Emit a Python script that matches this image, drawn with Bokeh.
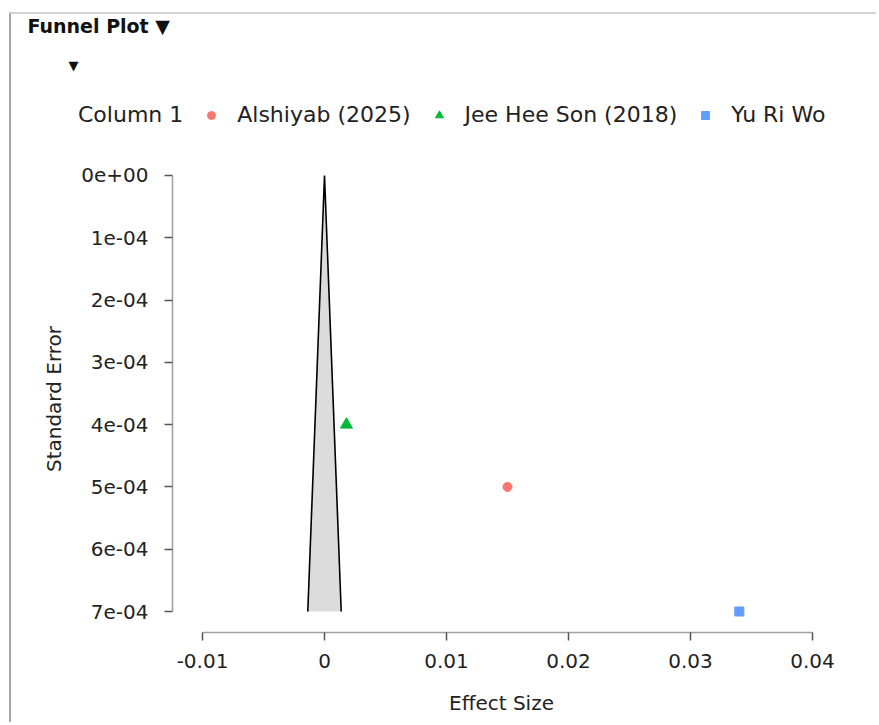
from bokeh.plotting import figure
from bokeh.layouts import column
from bokeh.models import (Range1d, FixedTicker, CustomJSTickFormatter, Legend, LegendItem, Label)
from bokeh.embed import file_html
from bokeh.resources import INLINE

# ---- data ----
studies = ["Alshiyab (2025)", "Jee Hee Son (2018)", "Yu Ri Wo"]
effect = [0.0150, 0.0018, 0.0340]
std_err = [5e-4, 4e-4, 7e-4]
markers = ["circle", "triangle", "square"]
colors = ["#F8766D", "#00BA38", "#619CFF"]
legend_title = "Column 1"
plot_title = "Funnel Plot \u25BC"

funnel_x = [-0.00137, 0.0, 0.00137]
funnel_se = [7e-4, 0.0, 7e-4]

x_ticks = [-0.01, 0.0, 0.01, 0.02, 0.03, 0.04]
x_tick_labels = ["-0.01", "0", "0.01", "0.02", "0.03", "0.04"]
se_ticks = [0.0, 1e-4, 2e-4, 3e-4, 4e-4, 5e-4, 6e-4, 7e-4]
se_tick_labels = ["0e+00", "1e-04", "2e-04", "3e-04", "4e-04", "5e-04", "6e-04", "7e-04"]

FONT = "DejaVu Sans"
TXT = "#222222"
W = 865
H_HEAD = 140

# ---------------- header (title + legend row) ----------------
head = figure(width=W, height=H_HEAD, x_range=Range1d(0, W), y_range=Range1d(H_HEAD, 0),
              output_backend="svg", toolbar_location=None,
              x_axis_location=None, y_axis_location=None,
              min_border_left=0, min_border_right=0, min_border_top=0, min_border_bottom=0,
              background_fill_color="white", border_fill_color="white")
head.frame_align = False
head.outline_line_color = None
head.grid.visible = False

head.add_layout(Label(x=16, y=11, text=plot_title, text_font=FONT, text_font_style="bold",
                      text_font_size="19px", text_color="#111111", text_baseline="middle"))
head.add_layout(Label(x=62, y=51, text="\u25BC", text_font=FONT, text_font_size="13px",
                      text_color="#111111", text_baseline="middle", text_align="center"))

dummy = head.scatter([], [], marker="circle", size=1, fill_alpha=0, line_alpha=0)
items = [LegendItem(label=legend_title, renderers=[dummy])]
for s, x, y, m, c in zip(studies, effect, std_err, markers, colors):
    hr = head.scatter([x], [y], marker=m, size=9, fill_color=c, line_color=c, visible=False)
    items.append(LegendItem(label=s, renderers=[hr]))
lg = Legend(items=items, location=(31, 27),
            orientation="horizontal", padding=0, margin=0, spacing=18,
            label_standoff=16, glyph_width=20, glyph_height=24, label_height=24,
            label_text_font=FONT, label_text_font_size="22px", label_text_color=TXT,
            border_line_alpha=0, background_fill_alpha=0, inactive_fill_alpha=0)
head.add_layout(lg, "center")

# ---------------- main funnel plot ----------------
p = figure(frame_width=658, frame_height=467,
           x_range=Range1d(-0.012459, 0.041475),
           y_range=Range1d(7.337e-4, -1.6e-5),
           output_backend="svg", toolbar_location=None,
           min_border_left=161, min_border_right=46,
           min_border_top=11, min_border_bottom=90,
           background_fill_color="white", border_fill_color="white")
p.frame_align = False
p.outline_line_color = None
p.grid.visible = False

p.patch(funnel_x, funnel_se, fill_color="#dcdcdc", line_color=None)
p.line(funnel_x, funnel_se, line_color="black", line_width=1.6)

for s, x, y, m, c in zip(studies, effect, std_err, markers, colors):
    size = 12 if m == "triangle" else 9
    p.scatter([x], [y], marker=m, size=size, fill_color=c, line_color=c)

for ax in (p.xaxis[0], p.yaxis[0]):
    ax.axis_line_color = "#a0a0a0"
    ax.axis_line_width = 1.5
    ax.major_tick_line_color = "#555555"
    ax.major_tick_line_width = 1.5
    ax.major_tick_out = 8
    ax.major_tick_in = 0
    ax.minor_tick_line_color = None
    ax.major_label_text_font = FONT
    ax.major_label_text_font_size = "20px"
    ax.major_label_text_color = TXT
    ax.axis_label_text_font = FONT
    ax.axis_label_text_font_size = "20px"
    ax.axis_label_text_font_style = "normal"
    ax.axis_label_text_color = TXT

p.xaxis.bounds = (x_ticks[0], x_ticks[-1])
p.yaxis.bounds = (se_ticks[0], se_ticks[-1])
p.xaxis.ticker = FixedTicker(ticks=x_ticks)
p.yaxis.ticker = FixedTicker(ticks=se_ticks)
fmt_code = """
let best = 0, bd = Infinity;
for (let i = 0; i < tv.length; i++) {
  const d = Math.abs(tv[i] - tick);
  if (d < bd) { bd = d; best = i; }
}
return lab[best];
"""
p.xaxis.formatter = CustomJSTickFormatter(args=dict(tv=x_ticks, lab=x_tick_labels), code=fmt_code)
p.yaxis.formatter = CustomJSTickFormatter(args=dict(tv=se_ticks, lab=se_tick_labels), code=fmt_code)
p.xaxis.axis_label = "Effect Size"
p.yaxis.axis_label = "Standard Error"
p.xaxis.major_label_standoff = 13
p.yaxis.major_label_standoff = 16
p.xaxis.axis_label_standoff = 20
p.yaxis.axis_label_standoff = 12

page = column(head, p, spacing=0,
              styles={"margin-top": "12px", "margin-left": "9px",
                      "border-top": "2px solid #d4d4d4", "border-left": "2px solid #a9a9a9"})

open("out.html", "w").write(file_html(page, INLINE))
